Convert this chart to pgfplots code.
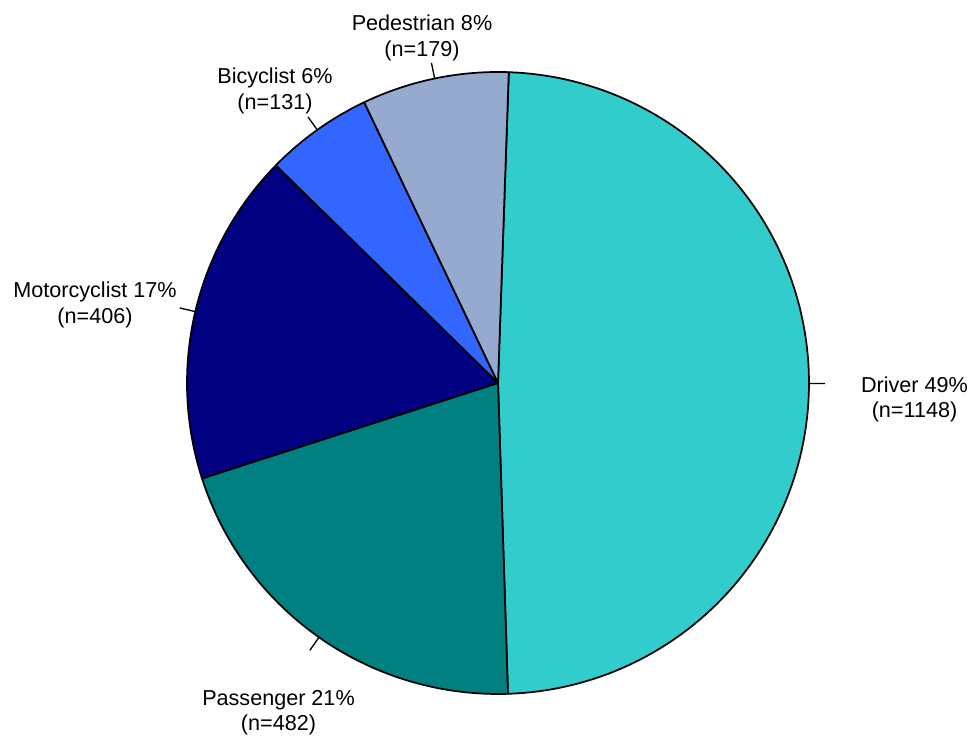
\documentclass[border=0pt]{standalone}
\usepackage{pgfplots}
\pgfplotsset{compat=1.18}
\usepackage{pgfplotstable}
\usepackage{fontspec}
\setmainfont{Liberation Sans}
\definecolor{cDriver}{HTML}{33CCCC}
\definecolor{cPassenger}{HTML}{008080}
\definecolor{cMotor}{HTML}{000080}
\definecolor{cBicycle}{HTML}{3366FF}
\definecolor{cPed}{HTML}{96A9CF}
\pgfplotstableread{
name count
Driver 1148
Passenger 482
Motorcyclist 406
Bicyclist 131
Pedestrian 179
}\piedata
\begin{document}
\begin{tikzpicture}
\pgfplotstablegetelem{0}{count}\of\piedata\let\cA\pgfplotsretval
\pgfplotstablegetelem{1}{count}\of\piedata\let\cB\pgfplotsretval
\pgfplotstablegetelem{2}{count}\of\piedata\let\cC\pgfplotsretval
\pgfplotstablegetelem{3}{count}\of\piedata\let\cD\pgfplotsretval
\pgfplotstablegetelem{4}{count}\of\piedata\let\cE\pgfplotsretval
\pgfmathsetmacro{\tot}{\cA+\cB+\cC+\cD+\cE}
\pgfmathsetmacro{\aS}{88}
\pgfmathsetmacro{\aA}{\aS-360*(\cA/\tot)}
\pgfmathsetmacro{\aB}{\aA-360*(\cB/\tot)}
\pgfmathsetmacro{\aC}{\aB-360*(\cC/\tot)}
\pgfmathsetmacro{\aD}{\aC-360*(\cD/\tot)}
\pgfmathsetmacro{\aE}{\aD-360*(\cE/\tot)}
\pgfmathsetmacro{\mA}{(\aS+\aA)/2}
\pgfmathsetmacro{\mB}{(\aA+\aB)/2}
\pgfmathsetmacro{\mC}{(\aB+\aC)/2}
\pgfmathsetmacro{\mD}{(\aC+\aD)/2}
\pgfmathsetmacro{\mE}{(\aD+\aE)/2}
\begin{axis}[
  width=728.25pt, height=552.75pt, scale only axis,
  xmin=-498, xmax=473, ymin=-354, ymax=383,
  hide axis, clip=false,
  every axis plot/.append style={draw=black, line width=1.3pt, line join=round, samples=120, variable=\t},
]
\path (rel axis cs:0,0) rectangle (rel axis cs:1,1);
\addplot[fill=cDriver, domain=\aA:\aS] ({311*cos(\t)},{311*sin(\t)}) -- (axis cs:0,0) -- cycle;
\addplot[fill=cPassenger, domain=\aB:\aA] ({311*cos(\t)},{311*sin(\t)}) -- (axis cs:0,0) -- cycle;
\addplot[fill=cMotor, domain=\aC:\aB] ({311*cos(\t)},{311*sin(\t)}) -- (axis cs:0,0) -- cycle;
\addplot[fill=cBicycle, domain=\aD:\aC] ({311*cos(\t)},{311*sin(\t)}) -- (axis cs:0,0) -- cycle;
\addplot[fill=cPed, domain=\aE:\aD] ({311*cos(\t)},{311*sin(\t)}) -- (axis cs:0,0) -- cycle;
\draw[line width=1pt] (axis cs:{311*cos(\mA)},{311*sin(\mA)}) -- (axis cs:{327*cos(\mA)},{327*sin(\mA)});
\draw[line width=1pt] (axis cs:{311*cos(\mB)},{311*sin(\mB)}) -- (axis cs:{327*cos(\mB)},{327*sin(\mB)});
\draw[line width=1pt] (axis cs:{311*cos(\mC)},{311*sin(\mC)}) -- (axis cs:{327*cos(\mC)},{327*sin(\mC)});
\draw[line width=1pt] (axis cs:{311*cos(\mD)},{311*sin(\mD)}) -- (axis cs:{327*cos(\mD)},{327*sin(\mD)});
\draw[line width=1pt] (axis cs:{311*cos(\mE)},{311*sin(\mE)}) -- (axis cs:{327*cos(\mE)},{327*sin(\mE)});
\begin{scope}[every node/.style={align=center, inner sep=0pt, font=\fontsize{16.2}{18.9}\selectfont}]
\node at (axis cs:416.5,-16.5) {Driver 49\%\\(n=1148)};
\node at (axis cs:-219.5,-329.5) {Passenger 21\%\\(n=482)};
\node at (axis cs:-403,78) {Motorcyclist 17\%\\(n=406)};
\node at (axis cs:-223,292) {Bicyclist 6\%\\(n=131)};
\node at (axis cs:-76,345) {Pedestrian 8\%\\(n=179)};
\end{scope}
\end{axis}
\end{tikzpicture}
\end{document}
